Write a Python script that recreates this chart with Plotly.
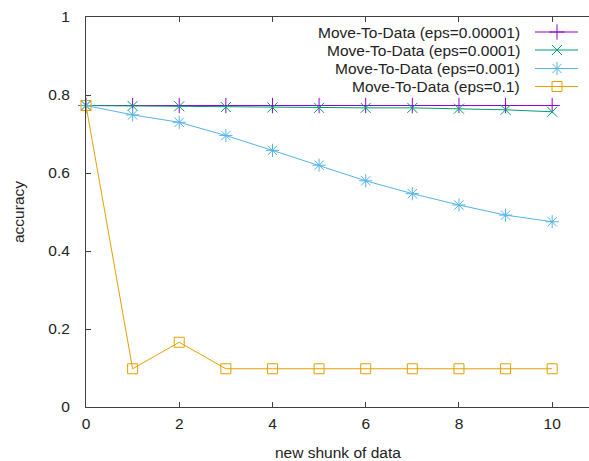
import plotly.graph_objects as go

# ---- data ----
chunks = [0, 1, 2, 3, 4, 5, 6, 7, 8, 9, 10]
acc_eps_00001 = [0.773, 0.773, 0.773, 0.773, 0.773, 0.773, 0.773, 0.773, 0.773, 0.773, 0.773]
acc_eps_0001 = [0.773, 0.772, 0.771, 0.769, 0.768, 0.767, 0.767, 0.767, 0.765, 0.762, 0.757]
acc_eps_001 = [0.773, 0.749, 0.730, 0.696, 0.658, 0.620, 0.580, 0.547, 0.518, 0.492, 0.475]
acc_eps_01 = [0.773, 0.098, 0.166, 0.098, 0.098, 0.098, 0.098, 0.098, 0.098, 0.098, 0.098]

series_names = [
    "Move-To-Data (eps=0.00001)",
    "Move-To-Data (eps=0.0001)",
    "Move-To-Data (eps=0.001)",
    "Move-To-Data (eps=0.1)",
]
series_values = [acc_eps_00001, acc_eps_0001, acc_eps_001, acc_eps_01]
colors = ["#9400D3", "#009E73", "#56B4E9", "#E69F00"]
symbols = ["cross-thin-open", "x-thin-open", "asterisk-open", "square-open"]
sizes = [11, 10, 11, 10]

FONT = "Liberation Sans, Arial, sans-serif"
FS = 15.5
TXT = "#222222"
AX = "#404040"

fig = go.Figure()
for name, vals, c, s, sz in zip(series_names, series_values, colors, symbols, sizes):
    fig.add_trace(go.Scatter(
        x=chunks, y=vals, mode="lines+markers", name=name,
        line=dict(color=c, width=1),
        marker=dict(symbol=s, size=sz, color=c, line=dict(color=c, width=1)),
        showlegend=False, cliponaxis=False,
    ))

# ---- gnuplot-style key (text left of sample) on pixel overlay axes ----
# overlay axes map to page pixels (plot area 86..589 x 17..407)
row_y = [32, 50, 68.5, 86.5]
for name, c, s, sz, ry in zip(series_names, colors, symbols, sizes, row_y):
    fig.add_trace(go.Scatter(
        x=[535, 557, 578], y=[ry, ry, ry], xaxis="x2", yaxis="y2",
        mode="lines", line=dict(color=c, width=1),
        showlegend=False, hoverinfo="skip", cliponaxis=False,
    ))
    fig.add_trace(go.Scatter(
        x=[557], y=[ry], xaxis="x2", yaxis="y2", mode="markers",
        marker=dict(symbol=s, size=sz, color=c, line=dict(color=c, width=1)),
        showlegend=False, hoverinfo="skip", cliponaxis=False,
    ))
    fig.add_annotation(
        x=522, y=ry, xref="x2", yref="y2", text=name, showarrow=False,
        xanchor="right", yanchor="middle",
        font=dict(family=FONT, size=FS, color=TXT),
    )

# axis titles
fig.add_annotation(x=0.5, y=0, xref="paper", yref="paper", text="new shunk of data",
                   showarrow=False, xanchor="center", yanchor="middle", yshift=-45,
                   font=dict(family=FONT, size=FS, color=TXT))
fig.add_annotation(x=0, y=0.5, xref="paper", yref="paper", text="accuracy",
                   showarrow=False, xanchor="center", yanchor="middle", xshift=-68,
                   textangle=-90, font=dict(family=FONT, size=FS, color=TXT))

fig.update_layout(
    width=589, height=461,
    margin=dict(l=86, r=0, t=17, b=54, autoexpand=False),
    paper_bgcolor="white", plot_bgcolor="white",
    showlegend=False,
    font=dict(family=FONT, size=FS, color=TXT),
    xaxis=dict(
        range=[0, 10.79], tickvals=[0, 2, 4, 6, 8, 10],
        ticks="inside", ticklen=5, tickcolor=AX, tickwidth=1,
        showline=True, linecolor=AX, linewidth=1, mirror="ticks",
        showgrid=False, zeroline=False, ticklabelstandoff=2, automargin=False,
    ),
    yaxis=dict(
        range=[0, 1], tickvals=[0, 0.2, 0.4, 0.6, 0.8, 1],
        ticktext=["0", "0.2", "0.4", "0.6", "0.8", "1"],
        ticks="inside", ticklen=5, tickcolor=AX, tickwidth=1,
        showline=True, linecolor=AX, linewidth=1,
        showgrid=False, zeroline=False, ticklabelstandoff=12, automargin=False,
    ),
    xaxis2=dict(range=[86, 589], overlaying="x", anchor="y2", visible=False,
                fixedrange=True),
    yaxis2=dict(range=[407, 17], overlaying="y", anchor="x2", visible=False,
                fixedrange=True),
)

fig.write_html(
    "out.html",
    config={"displayModeBar": False},
    post_script="document.body.style.margin='0';"
                "document.documentElement.style.overflow='hidden';"
                "document.body.style.overflow='hidden';",
)
